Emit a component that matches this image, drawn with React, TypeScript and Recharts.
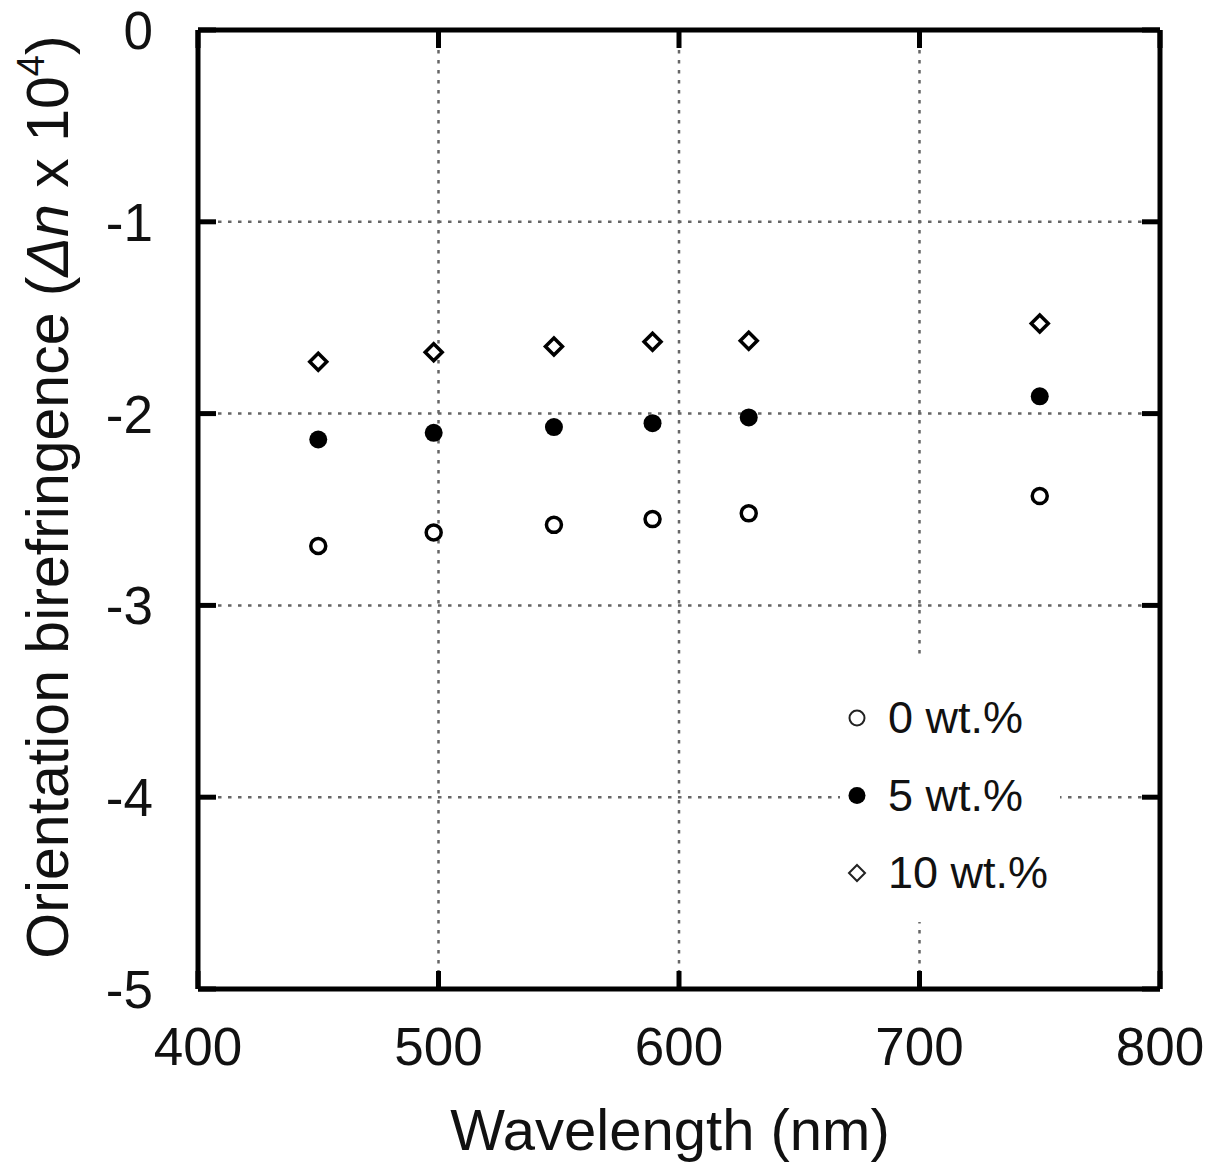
import {
  ScatterChart,
  Scatter,
  XAxis,
  YAxis,
  CartesianGrid,
} from "recharts";

const wavelengths = [450, 498, 548, 589, 629, 750];
const wt0 = [-2.69, -2.62, -2.58, -2.55, -2.52, -2.43];
const wt5 = [-2.135, -2.1, -2.07, -2.05, -2.02, -1.91];
const wt10 = [-1.73, -1.68, -1.65, -1.625, -1.62, -1.53];

const xTicks = [400, 500, 600, 700, 800];
const yTicks = [0, -1, -2, -3, -4, -5];

const toPoints = (ys: number[]) => wavelengths.map((x, i) => ({ x, y: ys[i] }));

const FONT = "'Liberation Sans', Arial, sans-serif";
const TICK_LEN = 18;
const AXIS_W = 5;
const TICK_COLOR = "#000";

const OpenCircle = (props: any) => (
  <circle cx={props.cx} cy={props.cy} r={7.5} fill="#fff" stroke="#000" strokeWidth={3.5} />
);
const FilledCircle = (props: any) => (
  <circle cx={props.cx} cy={props.cy} r={9} fill="#000" stroke="none" />
);
const Diamond = (props: any) => {
  const { cx, cy } = props;
  const s = 8.5;
  return (
    <path
      d={`M${cx},${cy - s} L${cx + s},${cy} L${cx},${cy + s} L${cx - s},${cy} Z`}
      fill="#fff"
      stroke="#000"
      strokeWidth={3.5}
    />
  );
};
// draws nothing; only ties the top and right frame axes to data so they get ticks
const Nothing = () => <g />;

const BottomTick = (props: any) => {
  const { x, y, payload } = props;
  return (
    <g>
      <line x1={x} y1={y} x2={x} y2={y - TICK_LEN} stroke={TICK_COLOR} strokeWidth={AXIS_W} />
      <text x={x} y={y + 76} textAnchor="middle" fontSize={53} fontFamily={FONT} fill="#111">
        {payload.value}
      </text>
    </g>
  );
};
const TopTick = (props: any) => {
  const { x, y } = props;
  return <line x1={x} y1={y} x2={x} y2={y + TICK_LEN} stroke={TICK_COLOR} strokeWidth={AXIS_W} />;
};
const LeftTick = (props: any) => {
  const { x, y, payload } = props;
  return (
    <g>
      <line x1={x} y1={y} x2={x + TICK_LEN} y2={y} stroke={TICK_COLOR} strokeWidth={AXIS_W} />
      <text x={x - 45} y={y + 19} textAnchor="end" fontSize={53} fontFamily={FONT} fill="#111">
        {payload.value}
      </text>
    </g>
  );
};
const RightTick = (props: any) => {
  const { x, y } = props;
  return <line x1={x} y1={y} x2={x - TICK_LEN} y2={y} stroke={TICK_COLOR} strokeWidth={AXIS_W} />;
};

const legendItems = [
  { label: "0 wt.%", kind: "open" },
  { label: "5 wt.%", kind: "filled" },
  { label: "10 wt.%", kind: "diamond" },
];

const LegendBox = () => (
  <svg width={220} height={262} style={{ position: "absolute", left: 840, top: 660, background: "#fff" }}>
    {legendItems.map((it, i) => {
      const cy = 58 + i * 77.5;
      const cx = 17;
      return (
        <g key={it.label}>
          {it.kind === "open" && <circle cx={cx} cy={cy} r={7.5} fill="#fff" stroke="#222" strokeWidth={2} />}
          {it.kind === "filled" && <circle cx={cx} cy={cy} r={8.5} fill="#000" />}
          {it.kind === "diamond" && (
            <path d={`M${cx},${cy - 8} L${cx + 8},${cy} L${cx},${cy + 8} L${cx - 8},${cy} Z`} fill="#fff" stroke="#222" strokeWidth={2} />
          )}
          <text x={48} y={cy + 15} fontSize={45} fontFamily={FONT} fill="#111">
            {it.label}
          </text>
        </g>
      );
    })}
  </svg>
);

const YLabel = () => (
  <text
    x={68}
    y={497}
    transform="rotate(-90, 68, 497)"
    textAnchor="middle"
    fontSize={59}
    fontFamily={FONT}
    fill="#111"
  >
    Orientation birefringence (<tspan fontStyle="italic">Δn</tspan> x 10
    <tspan fontSize={38} dy={-24}>4</tspan>
    <tspan dy={24}>)</tspan>
  </text>
);

const XLabel = () => (
  <text x={670} y={1150} textAnchor="middle" fontSize={58} fontFamily={FONT} fill="#111">
    Wavelength (nm)
  </text>
);

export default function App() {
  return (
    <div style={{ position: "absolute", left: 0, top: 0, width: 1210, height: 1166, background: "#fff" }}>
      <ScatterChart width={1210} height={1166} margin={{ top: 29, right: 0, bottom: 0, left: 0 }}>
        <CartesianGrid xAxisId="b" yAxisId="l" stroke="#666" strokeWidth={2.5} strokeDasharray="3.5 6.5" />
        <XAxis
          xAxisId="b"
          type="number"
          dataKey="x"
          domain={[400, 800]}
          ticks={xTicks}
          height={177}
          tickSize={0}
          tickMargin={0}
          tickLine={false}
          axisLine={{ stroke: "#000", strokeWidth: AXIS_W }}
          tick={<BottomTick />}
          interval={0}
          label={<XLabel />}
        />
        <XAxis
          xAxisId="t"
          orientation="top"
          type="number"
          dataKey="x"
          domain={[400, 800]}
          ticks={xTicks}
          height={1}
          tickSize={0}
          tickMargin={0}
          tickLine={false}
          axisLine={{ stroke: "#000", strokeWidth: AXIS_W }}
          tick={<TopTick />}
          interval={0}
        />
        <YAxis
          yAxisId="l"
          type="number"
          dataKey="y"
          domain={[-5, 0]}
          ticks={yTicks}
          width={198}
          tickSize={0}
          tickMargin={0}
          tickLine={false}
          axisLine={{ stroke: "#000", strokeWidth: AXIS_W }}
          tick={<LeftTick />}
          interval={0}
          label={<YLabel />}
        />
        <YAxis
          yAxisId="r"
          orientation="right"
          type="number"
          dataKey="y"
          domain={[-5, 0]}
          ticks={yTicks}
          width={50}
          tickSize={0}
          tickMargin={0}
          tickLine={false}
          axisLine={{ stroke: "#000", strokeWidth: AXIS_W }}
          tick={<RightTick />}
          interval={0}
        />
        <Scatter xAxisId="t" yAxisId="r" data={toPoints(wt0)} shape={<Nothing />} legendType="none" isAnimationActive={false} />
        <Scatter name="0 wt.%" xAxisId="b" yAxisId="l" data={toPoints(wt0)} shape={<OpenCircle />} isAnimationActive={false} />
        <Scatter name="5 wt.%" xAxisId="b" yAxisId="l" data={toPoints(wt5)} shape={<FilledCircle />} isAnimationActive={false} />
        <Scatter name="10 wt.%" xAxisId="b" yAxisId="l" data={toPoints(wt10)} shape={<Diamond />} isAnimationActive={false} />
      </ScatterChart>
      <LegendBox />
    </div>
  );
}
